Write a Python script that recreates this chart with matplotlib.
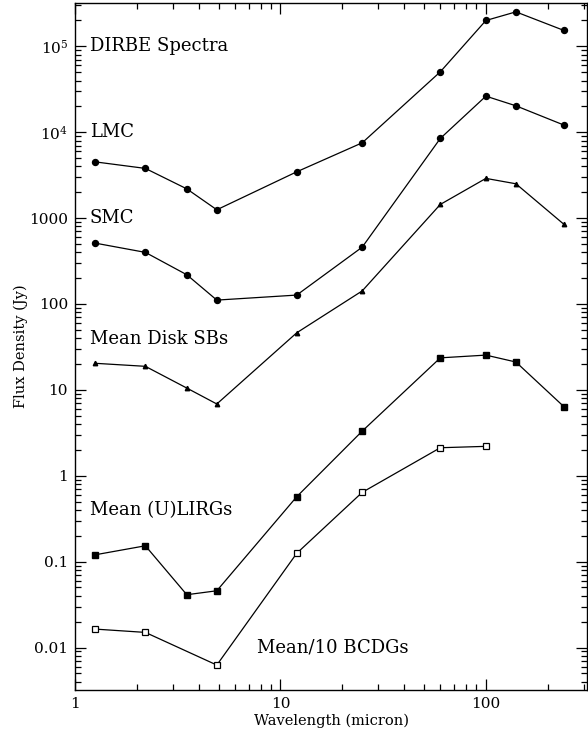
import matplotlib
matplotlib.use("Agg")
import matplotlib.pyplot as plt
from matplotlib.ticker import FixedLocator, FixedFormatter, LogLocator, NullFormatter

plt.rcParams['font.family'] = ['DejaVu Serif']
plt.rcParams['mathtext.fontset'] = 'dejavuserif'

wavelength = [1.25, 2.2, 3.5, 4.9, 12, 25, 60, 100, 140, 240]
lmc = [4520, 3790, 2190, 1250, 3460, 7530, 50500, 200000, 252000, 153000]
smc = [512, 399, 219, 111, 127, 459, 8470, 26300, 20300, 12100]
disk_sbs = [20.4, 18.8, 10.5, 6.85, 46.2, 142, 1443, 2900, 2510, 845]
lirgs = [0.120, 0.153, 0.0412, 0.0458, 0.570, 3.31, 23.6, 25.4, 21.1, 6.36]
bcdg_wavelength = [1.25, 2.2, 4.9, 12, 25, 60, 100]
bcdgs = [0.0164, 0.0150, 0.00625, 0.125, 0.641, 2.12, 2.20]

ytick_values = [0.01, 0.1, 1, 10, 100, 1000, 1e4, 1e5]
ytick_labels = ['0.01', '0.1', '1', '10', '100', '1000', r'$10^4$', r'$10^5$']
xtick_values = [1, 10, 100]
xtick_labels = ['1', '10', '100']

fig = plt.figure(figsize=(5.88, 7.38), dpi=100)
ax = fig.add_axes([0.1276, 0.065, 0.8714, 0.931])

lw = 0.9
ax.plot(wavelength, lmc, '-o', color='black', lw=lw, ms=4.3)
ax.plot(wavelength, smc, '-o', color='black', lw=lw, ms=4.3)
ax.plot(wavelength, disk_sbs, '-^', color='black', lw=lw, ms=3.2)
ax.plot(wavelength, lirgs, '-s', color='black', lw=lw, ms=3.8)
ax.plot(bcdg_wavelength, bcdgs, '-s', color='black', lw=lw, ms=4.8, mfc='white', mew=0.9)

ax.set_xscale('log')
ax.set_yscale('log')
ax.set_xlim(1, 312)
ax.set_ylim(0.0032, 3.2e5)

ax.xaxis.set_major_locator(FixedLocator(xtick_values))
ax.xaxis.set_major_formatter(FixedFormatter(xtick_labels))
ax.xaxis.set_minor_locator(LogLocator(base=10, subs=range(2, 10), numticks=20))
ax.xaxis.set_minor_formatter(NullFormatter())
ax.yaxis.set_major_locator(FixedLocator(ytick_values))
ax.yaxis.set_major_formatter(FixedFormatter(ytick_labels))
ax.yaxis.set_minor_locator(LogLocator(base=10, subs=range(2, 10), numticks=20))
ax.yaxis.set_minor_formatter(NullFormatter())

ax.tick_params(which='both', direction='in', top=True, right=True, width=0.9)
ax.tick_params(which='major', length=8, labelsize=11, pad=5)
ax.tick_params(which='minor', length=4)
for s in ax.spines.values():
    s.set_linewidth(1.0)

ax.set_xlabel('Wavelength (micron)', fontsize=10.5, labelpad=2)
ax.set_ylabel('Flux Density (Jy)', fontsize=10.5, labelpad=1)

tfs = 13
ax.text(1.18, 1e5, 'DIRBE Spectra', fontsize=tfs, va='center', ha='left')
ax.text(1.18, 1e4, 'LMC', fontsize=tfs, va='center', ha='left')
ax.text(1.18, 1e3, 'SMC', fontsize=tfs, va='center', ha='left')
ax.text(1.18, 39, 'Mean Disk SBs', fontsize=tfs, va='center', ha='left')
ax.text(1.18, 0.40, 'Mean (U)LIRGs', fontsize=tfs, va='center', ha='left')
ax.text(7.69, 0.0099, 'Mean/10 BCDGs', fontsize=tfs, va='center', ha='left')

fig.savefig('out.png', dpi=100)
